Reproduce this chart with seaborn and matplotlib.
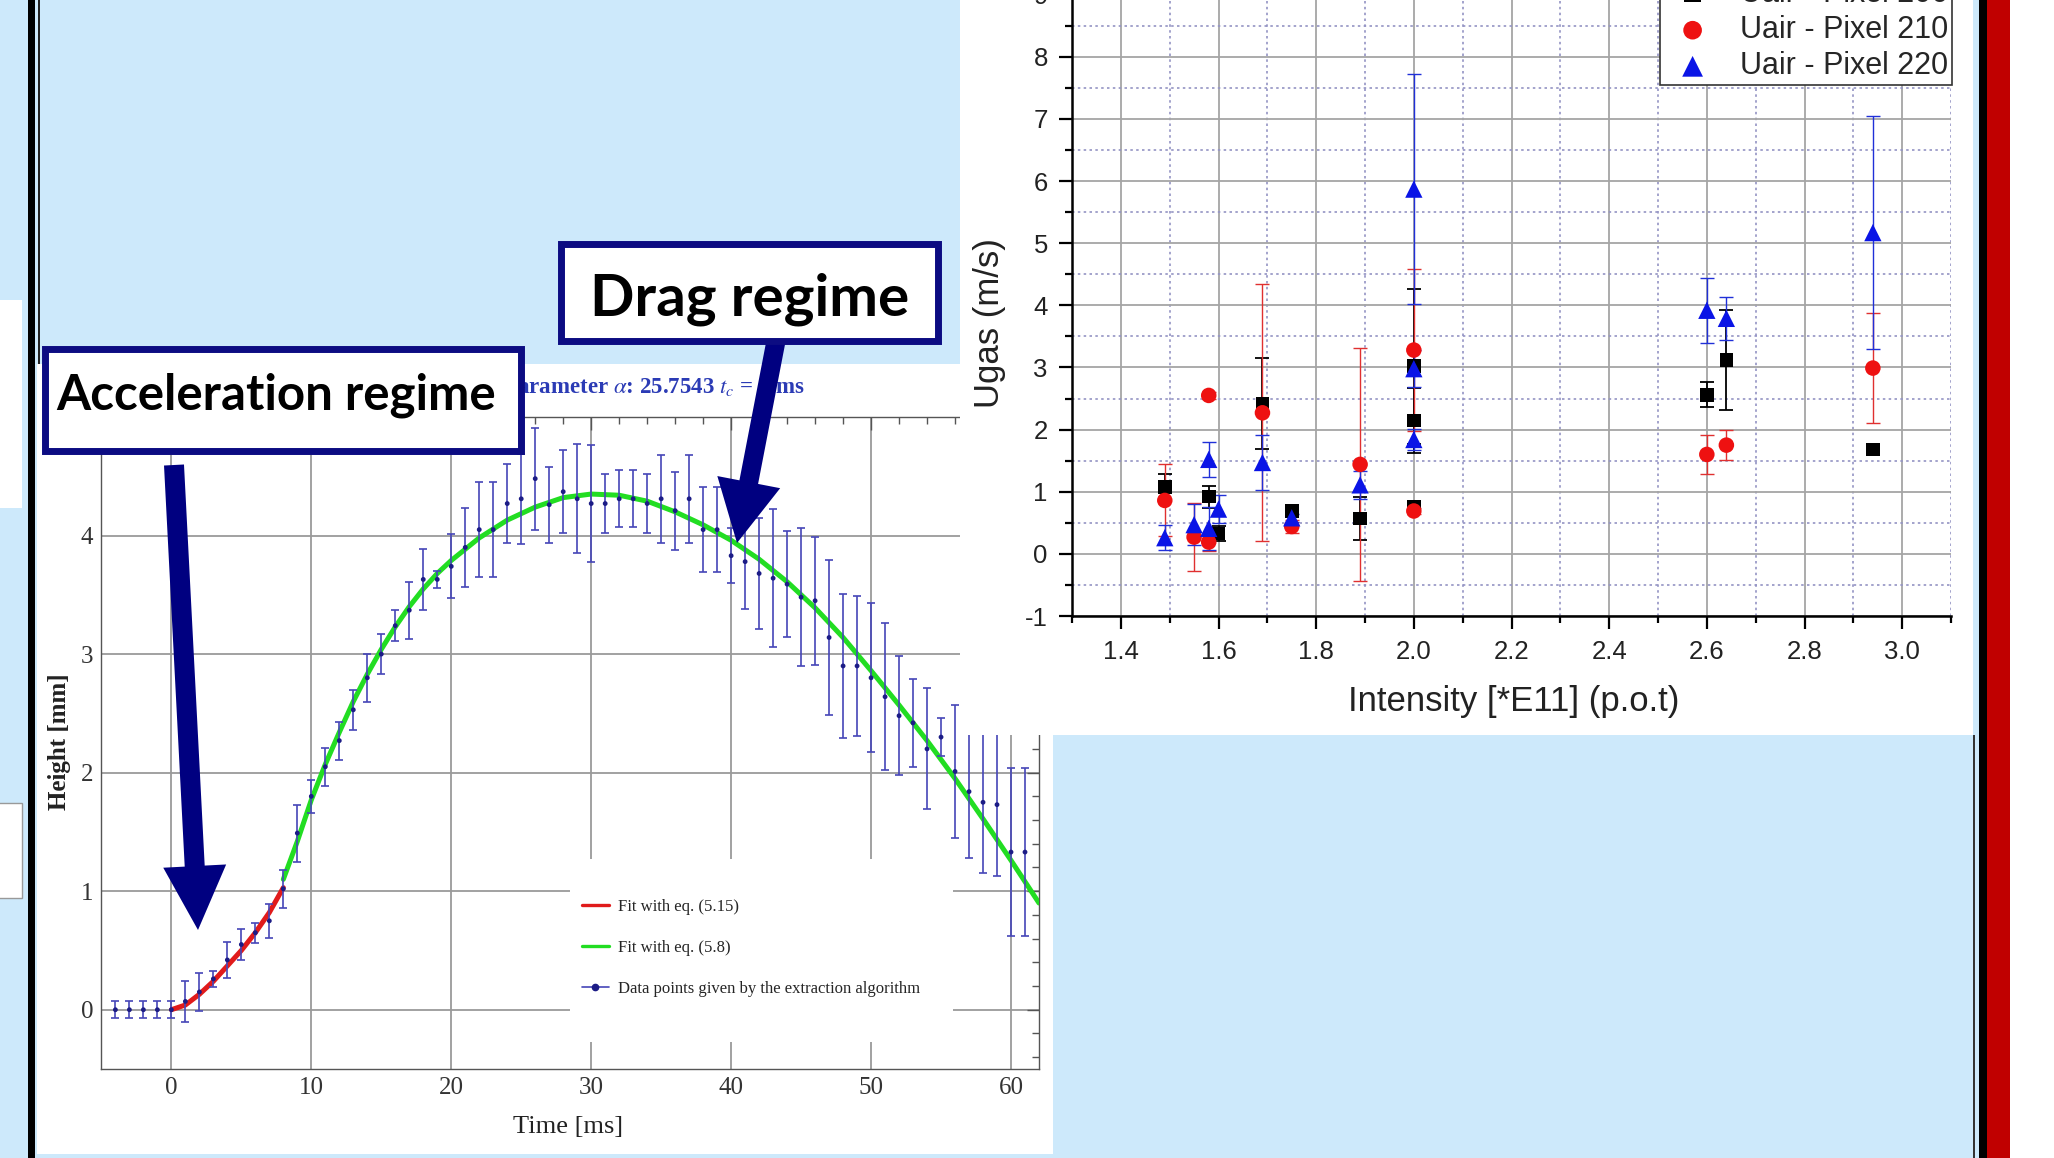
import numpy as np
import pandas as pd
import matplotlib
matplotlib.use("Agg")
import matplotlib.pyplot as plt
import seaborn as sns
from matplotlib.patches import Rectangle, FancyArrow
from matplotlib.lines import Line2D
from matplotlib.ticker import MultipleLocator, FormatStrFormatter, FixedLocator

# ---------------- left chart data (height vs time) ----------------
time_ms = list(range(-4, 62))
height_mm = [0.0, 0.0, 0.0, 0.0, 0.0,
             0.07, 0.15, 0.26, 0.42, 0.55, 0.65, 0.75, 1.02, 1.49, 1.80,
             2.05, 2.27, 2.53, 2.80, 3.00, 3.24, 3.37, 3.63, 3.63, 3.74,
             3.90, 4.05, 4.05, 4.27, 4.31, 4.48, 4.26, 4.37, 4.31, 4.27,
             4.27, 4.31, 4.31, 4.27, 4.31, 4.21, 4.31, 4.05, 4.05, 3.83,
             3.78, 3.68, 3.64, 3.59, 3.48, 3.45, 3.14, 2.90, 2.90, 2.80,
             2.64, 2.48, 2.42, 2.20, 2.30, 2.01, 1.84, 1.75, 1.73, 1.33, 1.33]
height_err = [0.07, 0.07, 0.07, 0.07, 0.07,
              0.17, 0.16, 0.07, 0.155, 0.13, 0.085, 0.145, 0.16, 0.24, 0.14,
              0.16, 0.16, 0.17, 0.20, 0.17, 0.13, 0.24, 0.26, 0.07, 0.27,
              0.33, 0.40, 0.40, 0.33, 0.38, 0.43, 0.32, 0.35, 0.46, 0.49,
              0.25, 0.24, 0.24, 0.25, 0.37, 0.33, 0.37, 0.36, 0.36, 0.23,
              0.40, 0.47, 0.58, 0.45, 0.58, 0.54, 0.65, 0.61, 0.59, 0.63,
              0.62, 0.50, 0.37, 0.51, 0.16, 0.56, 0.56, 0.60, 0.60, 0.71, 0.71]
fit_515_t = [0, 1, 2, 3, 4, 5, 6, 7, 8]
fit_515_h = [0.0, 0.04, 0.13, 0.24, 0.37, 0.50, 0.65, 0.82, 1.03]
fit_58_t = [8, 9, 10, 11, 12, 13, 14, 15, 16, 17, 18, 19, 20,
            22, 24, 26, 28, 30, 32, 34, 36, 38, 40, 42, 44, 46, 48, 50,
            52, 54, 56, 58, 60, 62]
fit_58_h = [1.10, 1.42, 1.77, 2.07, 2.34, 2.60, 2.83, 3.04, 3.23, 3.40, 3.55, 3.68, 3.79,
            3.98, 4.13, 4.24, 4.32, 4.35, 4.34, 4.29, 4.20, 4.09, 3.96, 3.80, 3.61, 3.39,
            3.14, 2.86, 2.57, 2.27, 1.95, 1.61, 1.26, 0.90]
height_ticks = [0, 1, 2, 3, 4]
time_ticks = [0, 10, 20, 30, 40, 50, 60]
legend_left_labels = ["Fit with eq. (5.15)", "Fit with eq. (5.8)",
                      "Data points given by the extraction algorithm"]

# ---------------- right chart data (Ugas vs intensity) ----------------
int_200 = [1.49, 1.58, 1.60, 1.69, 1.75, 1.89, 2.00, 2.00, 2.00, 2.60, 2.64, 2.94]
ugas_200 = [1.08, 0.92, 0.33, 2.42, 0.69, 0.57, 3.02, 2.15, 0.75, 2.56, 3.12, 1.68]
err_200 = [0.21, 0.18, 0.12, 0.73, 0.08, 0.35, 1.25, 0.52, 0.05, 0.20, 0.80, 0.05]

int_210 = [1.49, 1.55, 1.58, 1.58, 1.69, 1.75, 1.89, 2.00, 2.00, 2.60, 2.64, 2.94]
ugas_210 = [0.86, 0.27, 2.55, 0.19, 2.27, 0.44, 1.44, 3.28, 0.69, 1.60, 1.75, 2.99]
err_210 = [0.58, 0.55, 0.05, 0.15, 2.07, 0.10, 1.87, 1.30, 0.05, 0.32, 0.24, 0.89]

int_220 = [1.49, 1.55, 1.58, 1.58, 1.60, 1.69, 1.75, 1.89, 2.00, 2.00, 2.00, 2.60, 2.64, 2.94]
ugas_220 = [0.26, 0.47, 1.52, 0.41, 0.72, 1.47, 0.58, 1.11, 5.87, 2.98, 1.84, 3.92, 3.79, 5.17]
err_220 = [0.20, 0.33, 0.28, 0.35, 0.22, 0.45, 0.06, 0.22, 1.85, 0.30, 0.17, 0.52, 0.35, 1.87]

series_labels = ["Uair - Pixel 200", "Uair - Pixel 210", "Uair - Pixel 220"]

# ---------------- styling ----------------
sns.set_theme(style="white")
plt.rcParams["mathtext.fontset"] = "stix"
plt.rcParams["axes.unicode_minus"] = False
plt.rcParams["font.family"] = ["Liberation Sans", "DejaVu Sans"]

BG = "#cde9fb"
NAVY = "#000080"
RED = "#e01b1b"
GREEN = "#22dd22"
PT_BLUE = "#4646b8"
DOT_BLUE = "#1c1c86"
SERIF = "Liberation Serif"
SANS = "Liberation Sans"

W, H = 2054, 1158
fig = plt.figure(figsize=(W / 100, H / 100), dpi=100)
fig.patch.set_facecolor(BG)


def px_axes(z):
    a = fig.add_axes([0, 0, 1, 1], zorder=z)
    a.set_xlim(0, W)
    a.set_ylim(H, 0)
    a.axis("off")
    return a


# background panels
bg = px_axes(0)
bg.add_patch(Rectangle((37, 364), 1016, 790, fc="white", ec="none"))
bg.add_patch(Rectangle((0, 300), 22, 208, fc="white", ec="none"))
bg.add_patch(Rectangle((-3, 803), 25, 95, fc="white", ec="#999999", lw=1))

# ---------------- left chart ----------------
axL = fig.add_axes([101.4 / W, 1 - 1069 / H, 937.6 / W, 652 / H], zorder=1)
axL.set_facecolor("none")
axL.set_axisbelow(True)

sns.lineplot(x=fit_515_t, y=fit_515_h, ax=axL, color=RED, lw=3.6, sort=False,
             estimator=None, zorder=3)
sns.lineplot(x=fit_58_t, y=fit_58_h, ax=axL, color=GREEN, lw=3.6, sort=False,
             estimator=None, zorder=3)
axL.errorbar(time_ms, height_mm, yerr=height_err, fmt="none", ecolor=PT_BLUE,
             elinewidth=1.2, capsize=3, capthick=1.2, zorder=4)
sns.scatterplot(x=time_ms, y=height_mm, ax=axL, color=DOT_BLUE, s=12,
                edgecolor="none", zorder=5)

axL.set_xlim(-5, 62)
axL.set_ylim(-0.5, 5.0)
axL.xaxis.set_major_locator(FixedLocator(time_ticks))
axL.xaxis.set_minor_locator(MultipleLocator(2))
axL.yaxis.set_major_locator(FixedLocator(height_ticks))
axL.yaxis.set_minor_locator(MultipleLocator(0.2))
axL.grid(True, which="major", color="#9a9a9a", lw=1.3)
axL.tick_params(which="both", direction="in", top=True, right=True,
                color="#555555", width=1)
axL.tick_params(which="major", length=9, labelsize=18, labelcolor="#333333",
                pad=6, labelfontfamily=SERIF)
axL.tick_params(which="minor", length=5)
for sp in axL.spines.values():
    sp.set_color("#555555")
    sp.set_linewidth(1)

axL.set_xlabel("Time [ms]", fontsize=19, family=SERIF, color="#222222")
axL.xaxis.set_label_coords(0.4977, -0.089)
axL.xaxis.label.set_va("center")
axL.set_ylabel("Height [mm]", fontsize=18, family=SERIF, fontweight="bold",
               color="#222222")
axL.yaxis.set_label_coords(-0.0452, 0.5015)
axL.yaxis.label.set_va("center")

# legend area (white background interrupting grid)
axL.add_patch(Rectangle((570, 859), 383, 183, transform=bg.transData,
                        fc="white", ec="none", zorder=1))
h_red = Line2D([], [], color=RED, lw=2.4)
h_green = Line2D([], [], color=GREEN, lw=2.4)
h_blue = Line2D([], [], color=PT_BLUE, lw=1.2, marker="o", markersize=4.5,
                markerfacecolor=DOT_BLUE, markeredgecolor=DOT_BLUE)
axL.legend([h_red, h_green, h_blue], legend_left_labels, loc="upper left",
           bbox_to_anchor=(582 / W, 1 - 899 / H), bbox_transform=fig.transFigure,
           frameon=False, borderpad=0, borderaxespad=0,
           prop={"family": SERIF, "size": 12}, labelspacing=1.5,
           handlelength=1.6, handletextpad=0.55)

axL.text(805, 393, r"Fit parameter $\alpha$: 25.7543 $t_c$ = 8 ms",
         transform=bg.transData, ha="right", va="baseline", fontsize=16.5,
         fontweight="bold", family=SERIF, color="#2b3bb5")

# ---------------- right chart ----------------
mid = px_axes(2)
mid.add_patch(Rectangle((960, 0), 1013, 735, fc="white", ec="none"))

axR = fig.add_axes([1072 / W, 1 - 616 / H, 879 / W, 640 / H], zorder=3)
axR.set_facecolor("none")
axR.set_axisbelow(True)
axR.grid(True, which="major", color="#a5a5a5", lw=1.3)
axR.grid(True, which="minor", color="#9494c4", lw=1.2, ls=(0, (1.5, 2)))

axR.errorbar(int_200, ugas_200, yerr=err_200, fmt="none", ecolor="black",
             elinewidth=1.3, capsize=5, capthick=1.3, zorder=3)
axR.errorbar(int_210, ugas_210, yerr=err_210, fmt="none", ecolor="#e03030",
             elinewidth=1.0, capsize=5, capthick=1.0, zorder=3)
axR.errorbar(int_220, ugas_220, yerr=err_220, fmt="none", ecolor="#2030d8",
             elinewidth=1.0, capsize=5, capthick=1.0, zorder=3)
sns.scatterplot(x=int_200, y=ugas_200, ax=axR, marker="s", s=95, color="black",
                edgecolor="none", label=series_labels[0], zorder=4)
sns.scatterplot(x=int_210, y=ugas_210, ax=axR, marker="o", s=125, color="#ee1111",
                edgecolor="none", label=series_labels[1], zorder=4)
sns.scatterplot(x=int_220, y=ugas_220, ax=axR, marker="^", s=155, color="#0a14e6",
                edgecolor="none", label=series_labels[2], zorder=4)

axR.set_xlim(1.3, 3.1)
axR.set_ylim(-1, 9.3)
axR.xaxis.set_major_locator(MultipleLocator(0.2))
axR.xaxis.set_minor_locator(MultipleLocator(0.1))
axR.xaxis.set_major_formatter(FormatStrFormatter("%.1f"))
axR.yaxis.set_major_locator(MultipleLocator(1))
axR.yaxis.set_minor_locator(MultipleLocator(0.5))
axR.tick_params(which="both", direction="out", color="black", width=1.6,
                bottom=True, left=True)
axR.tick_params(which="major", length=9.4, labelsize=18.5, labelcolor="#222222",
                pad=8, labelfontfamily=SANS)
axR.tick_params(which="minor", length=5)
axR.spines["top"].set_visible(False)
axR.spines["right"].set_visible(False)
for s in ("left", "bottom"):
    axR.spines[s].set_color("black")
    axR.spines[s].set_linewidth(1.8)

axR.set_xlabel("Intensity [*E11] (p.o.t)", fontsize=25, family=SANS, color="#222222")
axR.xaxis.set_label_coords(0.502, -0.133)
axR.xaxis.label.set_va("center")
axR.set_ylabel("Ugas (m/s)", fontsize=25, family=SANS, color="#222222")
axR.yaxis.set_label_coords(-0.0933, 0.458)
axR.yaxis.label.set_va("center")

legR = axR.legend(loc="lower right", bbox_to_anchor=(1952 / W, 1 - 85 / H),
                  bbox_transform=fig.transFigure, prop={"family": SANS, "size": 22},
                  frameon=True, fancybox=False, edgecolor="#333333", framealpha=1,
                  borderaxespad=0, labelspacing=0.2, handletextpad=0.6,
                  borderpad=0.12, markerscale=1.2, handlelength=1.9)
legR.get_frame().set_linewidth(1.2)

# ---------------- annotations and slide decorations ----------------
top = px_axes(4)
top.add_patch(FancyArrow(776, 341, -39, 202, width=19, head_width=64,
                         head_length=62, length_includes_head=True,
                         fc=NAVY, ec="none", zorder=1))
top.add_patch(FancyArrow(174, 465, 24, 465, width=20, head_width=63,
                         head_length=64, length_includes_head=True,
                         fc=NAVY, ec="none", zorder=1))
top.add_patch(Rectangle((560.5, 243.5), 377, 97, fc="white", ec="#0c0c82",
                        lw=5, zorder=2))
top.text(750, 316, "Drag regime", ha="center", va="baseline", fontsize=42,
         fontweight="bold", family="Lato", color="black", zorder=3)
top.add_patch(Rectangle((44.5, 348.5), 476, 102, fc="white", ec="#0c0c82",
                        lw=5, zorder=2))
top.text(276, 410, "Acceleration regime", ha="center", va="baseline", fontsize=35.5,
         fontweight="bold", family="Lato", color="black", zorder=3)

top.add_patch(Rectangle((28, 0), 7, H, fc="black", ec="none"))
top.add_patch(Rectangle((38, 0), 2, 364, fc="#222222", ec="none"))
top.add_patch(Rectangle((1973, 735), 2, H - 735, fc="#333333", ec="none"))
top.add_patch(Rectangle((1979, 0), 8, H, fc="black", ec="none"))
top.add_patch(Rectangle((1987, 0), 23, H, fc="#c00000", ec="none"))
top.add_patch(Rectangle((2010, 0), 44, H, fc="white", ec="none"))

fig.savefig("out.png", dpi=100, facecolor=fig.get_facecolor())
